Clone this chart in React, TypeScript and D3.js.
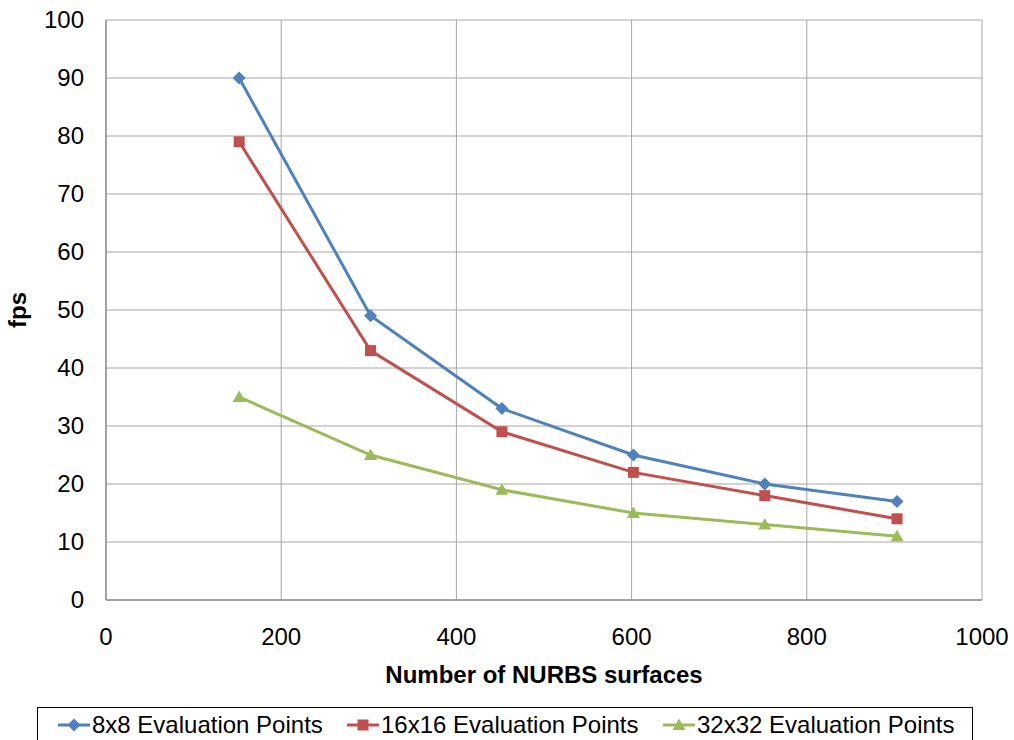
import React, { useEffect, useRef } from 'react';
import * as d3 from 'd3';

const surfaces = [152, 302, 452, 602, 752, 903];
const seriesNames = ['8x8 Evaluation Points', '16x16 Evaluation Points', '32x32 Evaluation Points'];
const fps8 = [90, 49, 33, 25, 20, 17];
const fps16 = [79, 43, 29, 22, 18, 14];
const fps32 = [35, 25, 19, 15, 13, 11];
const xTicks = [0, 200, 400, 600, 800, 1000];
const yTicks = [0, 10, 20, 30, 40, 50, 60, 70, 80, 90, 100];

const colors = ['#4F81BD', '#C0504D', '#9BBB59'];

// marker shapes: diamond, square, triangle
const markerPath = (kind: number) => {
  if (kind === 0) return 'M0,-6.5L6.5,0L0,6.5L-6.5,0Z';
  if (kind === 1) return 'M-5.5,-5.5H5.5V5.5H-5.5Z';
  return 'M0,-6.5L6.5,5L-6.5,5Z';
};

const App = () => {
  const ref = useRef<SVGSVGElement>(null);

  useEffect(() => {
    const width = 1014, height = 740;
    const left = 106, right = 982, top = 20, bottom = 600;
    const font = 'Liberation Sans, Arial, sans-serif';

    const svg = d3.select(ref.current);
    svg.selectAll('*').remove();
    svg.attr('width', width).attr('height', height);

    const x = d3.scaleLinear().domain([0, 1000]).range([left, right]);
    const y = d3.scaleLinear().domain([0, 100]).range([bottom, top]);

    // grid
    svg.append('g').selectAll('line').data(yTicks.slice(1)).enter().append('line')
      .attr('x1', left).attr('x2', right)
      .attr('y1', d => y(d)).attr('y2', d => y(d))
      .attr('stroke', '#a6a6a6').attr('stroke-width', 1);
    svg.append('g').selectAll('line').data(xTicks.slice(1)).enter().append('line')
      .attr('x1', d => x(d)).attr('x2', d => x(d))
      .attr('y1', top).attr('y2', bottom)
      .attr('stroke', '#a6a6a6').attr('stroke-width', 1);

    // axes lines
    svg.append('line').attr('x1', left).attr('x2', left).attr('y1', top).attr('y2', bottom)
      .attr('stroke', '#868686').attr('stroke-width', 1.5);
    svg.append('line').attr('x1', left).attr('x2', right).attr('y1', bottom).attr('y2', bottom)
      .attr('stroke', '#868686').attr('stroke-width', 1.5);

    // tick labels
    svg.append('g').selectAll('text').data(yTicks).enter().append('text')
      .attr('x', 84).attr('y', d => y(d)).attr('dy', '0.35em')
      .attr('text-anchor', 'end').style('font-family', font).style('font-size', '24px')
      .text(d => d);
    svg.append('g').selectAll('text').data(xTicks).enter().append('text')
      .attr('x', d => x(d)).attr('y', 637).attr('dy', '0.35em')
      .attr('text-anchor', 'middle').style('font-family', font).style('font-size', '24px')
      .text(d => d);

    // axis titles
    svg.append('text').attr('x', 544).attr('y', 675).attr('dy', '0.35em')
      .attr('text-anchor', 'middle').style('font-family', font).style('font-size', '24px')
      .style('font-weight', 'bold').text('Number of NURBS surfaces');
    svg.append('text').attr('transform', 'translate(18,310) rotate(-90)').attr('dy', '0.35em')
      .attr('text-anchor', 'middle').style('font-family', font).style('font-size', '24px')
      .style('font-weight', 'bold').text('fps');

    const allSeries = [fps8, fps16, fps32];
    const line = d3.line<number>().x((_, i) => x(surfaces[i])).y(d => y(d));

    allSeries.forEach((vals, s) => {
      svg.append('path').datum(vals).attr('d', line)
        .attr('fill', 'none').attr('stroke', colors[s]).attr('stroke-width', 3);
      svg.append('g').selectAll('path').data(vals).enter().append('path')
        .attr('d', markerPath(s))
        .attr('transform', (d, i) => `translate(${x(surfaces[i])},${y(d)})`)
        .attr('fill', colors[s]);
    });

    // legend
    svg.append('rect').attr('x', 37.5).attr('y', 707.5).attr('width', 935).attr('height', 40)
      .attr('fill', 'none').attr('stroke', '#000').attr('stroke-width', 1);
    const legendX = [58, 347, 663];
    seriesNames.forEach((name, s) => {
      const g = svg.append('g').attr('transform', `translate(${legendX[s]},725)`);
      g.append('line').attr('x1', 0).attr('x2', 32).attr('stroke', colors[s]).attr('stroke-width', 3);
      g.append('path').attr('d', markerPath(s))
        .attr('transform', 'translate(16,0)').attr('fill', colors[s]);
      g.append('text').attr('x', 34).attr('dy', '0.35em')
        .style('font-family', font).style('font-size', '24px').text(name);
    });
  }, []);

  return <svg ref={ref} style={{ position: 'absolute', left: 0, top: 0 }}></svg>;
};

export default App;
